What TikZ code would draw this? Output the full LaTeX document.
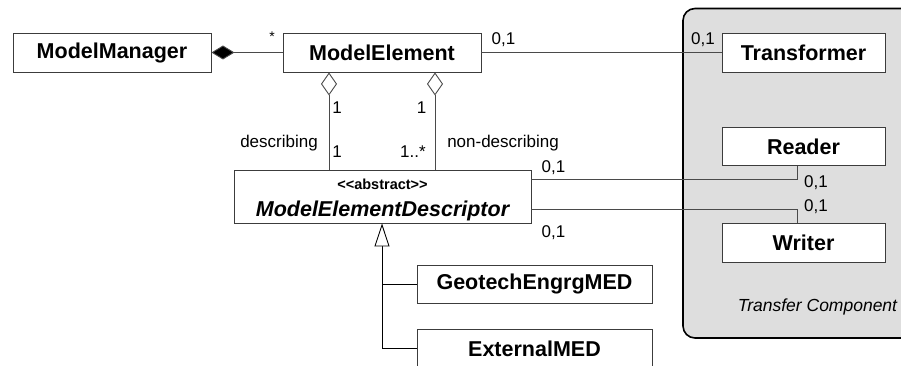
\documentclass[tikz,border=0pt]{standalone}
\usepackage{fontspec}
\setmainfont{Liberation Sans}
\usetikzlibrary{arrows.meta}
\definecolor{grpfill}{HTML}{DEDEDE}
\definecolor{boxline}{HTML}{3C3C3C}
\definecolor{conline}{HTML}{4A4A4A}
\tikzset{
  cls/.style={draw=boxline, line width=0.9pt, fill=white, inner sep=0pt,
    font=\fontsize{21.5}{24}\selectfont\bfseries},
  conn/.style={draw=conline, line width=0.9pt},
  lbl/.style={inner sep=0pt, font=\fontsize{17}{19}\selectfont},
  grp/.style={draw=black, line width=1.6pt, fill=grpfill, rounded corners=12pt},
  comp/.style={-{Diamond[fill=black, length=23pt 0 0, width=14pt 0 0]}},
  aggr/.style={{Diamond[open, fill=white, length=23pt 0 0, width=16pt 0 0]}-},
  gen/.style={-{Triangle[open, fill=white, length=23pt 0 0, width=15pt 0 0]}}
}
\begin{document}
\begin{tikzpicture}[x=1pt,y=-1pt]
\useasboundingbox (0,0) rectangle (901,366);
\begin{scope}
\clip (0,0) rectangle (901,366);
% grouping
\path[grp] (683,8.5) rectangle (930,338);
\node[lbl, font=\fontsize{17.5}{19}\selectfont\itshape] (tclbl) at (817.5,307) {Transfer Component};

% classes
\node[cls, minimum width=198pt, minimum height=39pt] (mm) at (112,52.5) {ModelManager};
\node[cls, minimum width=198pt, minimum height=39pt] (me) at (382,52.5) {ModelElement};
\node[cls, minimum width=163pt, minimum height=39pt] (tr) at (803.5,52.5) {Transformer};
\node[cls, minimum width=163pt, minimum height=38pt] (rd) at (803.5,146.5) {Reader};
\node[cls, minimum width=163pt, minimum height=39pt] (wr) at (803.5,243) {Writer};
\node[cls, minimum width=297pt, minimum height=53pt] (med) at (382.5,196.5) {};
\node[inner sep=0pt, font=\fontsize{14.5}{16}\selectfont\bfseries] (medst) at (382.5,184) {<\kern0pt<abstract>\kern0pt>};
\node[inner sep=0pt, font=\fontsize{21.5}{24}\selectfont\bfseries\itshape] (mednm) at (382.5,210.5) {ModelElementDescriptor};
\node[cls, minimum width=235pt, minimum height=38pt] (geo) at (534.5,284) {GeotechEngrgMED};
\node[cls, minimum width=235pt, minimum height=39pt] (ext) at (534.5,348.5) {ExternalMED};

% helper coordinates
\coordinate (d1) at (329,0);
\coordinate (d2) at (435,0);
\coordinate (gx) at (382,0);
\coordinate (rx) at (797,0);
\coordinate (ry) at (0,179);
\coordinate (wy) at (0,209.5);

% composition
\draw[conn, comp] (me.west) -- (mm.east);
% association to transformer
\draw[conn] (me.east) -- (tr.west);
% aggregations
\draw[conn, aggr] (me.south -| d1) -- (med.north -| d1);
\draw[conn, aggr] (me.south -| d2) -- (med.north -| d2);
% reader / writer
\draw[conn] (med.east |- ry) -| (rd.south -| rx);
\draw[conn] (med.east |- wy) -| (wr.north -| rx);
% generalization
\draw[conn, draw=black, gen] (ext.west) -| (med.south -| gx);
\draw[conn, draw=black] (geo.west) -- (geo.west -| gx);

% labels
\node[lbl, font=\fontsize{14}{16}\selectfont] (sstar) at (272,37) {*};
\node[lbl] (l01a) at (503.5,40) {0,1};
\node[lbl] (l01b) at (703,40) {0,1};
\node[lbl] (l1a) at (337,108) {1};
\node[lbl] (l1b) at (421.5,108) {1};
\node[lbl] (ldesc) at (279,143.5) {describing};
\node[lbl] (l1c) at (337,152) {1};
\node[lbl] (l1d) at (413,152) {1..*};
\node[lbl] (lndesc) at (503,143.5) {non-describing};
\node[lbl] (l01c) at (553.5,168) {0,1};
\node[lbl] (l01d) at (816,182.5) {0,1};
\node[lbl] (l01e) at (816,207) {0,1};
\node[lbl] (l01f) at (553.5,233) {0,1};
\end{scope}
\end{tikzpicture}
\end{document}
